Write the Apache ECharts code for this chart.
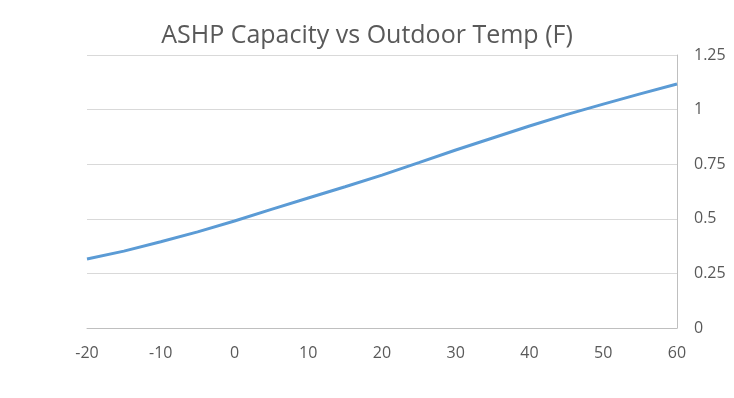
<!DOCTYPE html>
<html>
<head>
<meta charset="utf-8">
<script src="https://cdn.jsdelivr.net/npm/echarts@6/dist/echarts.min.js"></script>
<style>
  html, body { margin: 0; padding: 0; background: #fff; }
  #chart { width: 734px; height: 398px; }
</style>
</head>
<body>
<div id="chart"></div>
<script>
// outdoor temp (F) and capacity ratio
var temps = [-20, -15, -10, -5, 0, 5, 10, 15, 20, 25, 30, 35, 40, 45, 50, 55, 60];
var capacity = [0.316, 0.352, 0.395, 0.44, 0.49, 0.543, 0.595, 0.647, 0.70, 0.757, 0.815, 0.87, 0.925, 0.977, 1.025, 1.072, 1.117];

var chart = echarts.init(document.getElementById("chart"));

var points = [];
temps.forEach(function (t, i) {
  points.push([t, capacity[i]]);
});

var font = "'Open Sans', 'Noto Sans', sans-serif";

var option = {
  animation: false,
  title: {
    text: "ASHP Capacity vs Outdoor Temp (F)",
    left: "center",
    top: 18,
    textStyle: {
      color: "#595959",
      fontFamily: font,
      fontSize: 25,
      fontWeight: "normal"
    }
  },
  grid: {
    left: 87,
    right: 57,
    top: 55,
    bottom: 70
  },
  xAxis: {
    type: "value",
    min: -20,
    max: 60,
    interval: 10,
    axisLine: { onZero: false, lineStyle: { color: "#BFBFBF", width: 1 } },
    axisTick: { show: false },
    splitLine: { show: false },
    axisLabel: {
      color: "#595959",
      fontFamily: font,
      fontSize: 16,
      margin: 17
    }
  },
  yAxis: {
    type: "value",
    position: "right",
    min: 0,
    max: 1.25,
    interval: 0.25,
    axisLine: { show: true, onZero: false, lineStyle: { color: "#BFBFBF", width: 1 } },
    axisTick: { show: false },
    splitLine: { lineStyle: { color: "#D9D9D9", width: 1 } },
    axisLabel: {
      color: "#595959",
      fontFamily: font,
      fontSize: 16,
      margin: 17
    }
  },
  series: [
    {
      type: "line",
      data: points,
      showSymbol: false,
      smooth: false,
      lineStyle: { color: "#5B9BD5", width: 3 }
    }
  ]
};

chart.setOption(option);
</script>
</body>
</html>
